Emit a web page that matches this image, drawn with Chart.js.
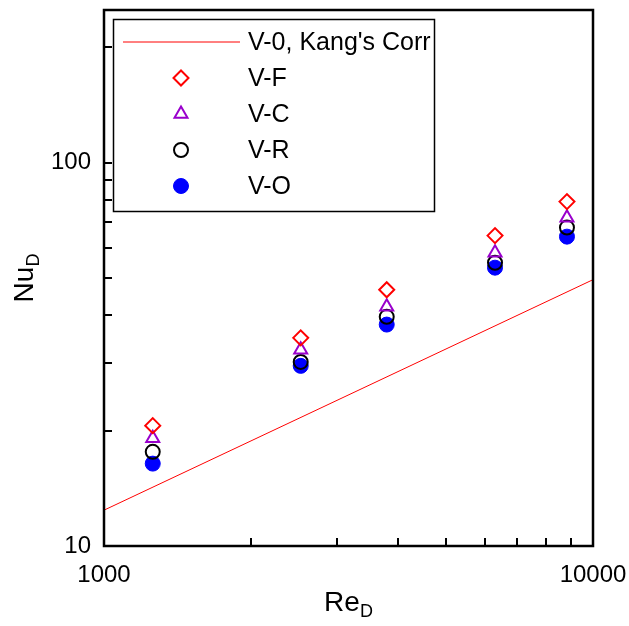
<!DOCTYPE html>
<html>
<head>
<meta charset="utf-8">
<script src="https://cdn.jsdelivr.net/npm/chart.js@4"></script>
<style>
  html, body { margin: 0; padding: 0; background: #fff; }
  #wrap { width: 629px; height: 626px; }
</style>
</head>
<body>
<div id="wrap"><canvas id="nuChart" width="629" height="626"></canvas></div>
<script>
// Re_D values for the measured cases
const reD = [1258, 2525, 3786, 6304, 8846];
// Nu_D for each configuration
const nuVF = [20.6, 34.9, 46.6, 64.5, 79.1];
const nuVC = [19.1, 32.5, 42.1, 58.2, 71.8];
const nuVR = [17.6, 30.2, 39.6, 54.8, 67.7];
const nuVO = [16.4, 29.5, 37.8, 53.2, 64.1];
// Kang's correlation line (end points)
const corrRe = [1000, 10000];
const corrNu = [12.4, 49.5];
// axis ticks
const xTicks = [1000, 2000, 3000, 4000, 5000, 6000, 7000, 8000, 9000, 10000];
const yTicks = [10, 20, 30, 40, 50, 60, 70, 80, 90, 100, 200];
const xLabels = [1000, 10000];
const yLabels = [10, 100];

const FONT = "'Liberation Sans', Arial, sans-serif";

function pts(xs, ys) {
  return xs.map((x, i) => ({ x: x, y: ys[i] }));
}

// ticks pointing inward, box frame, axis titles with subscripts, boxed legend
const decor = {
  id: 'decor',
  afterDraw(chart) {
    const ctx = chart.ctx;
    const a = chart.chartArea;
    const xs = chart.scales.x;
    const ys = chart.scales.y;
    ctx.save();
    ctx.strokeStyle = '#000';
    ctx.lineWidth = 2;
    ctx.beginPath();
    xTicks.forEach(v => {
      if (v === 1000 || v === 10000) return;
      const px = Math.round(xs.getPixelForValue(v));
      ctx.moveTo(px, a.bottom);
      ctx.lineTo(px, a.bottom - 8);
    });
    yTicks.forEach(v => {
      if (v === 10) return;
      const py = Math.round(ys.getPixelForValue(v));
      ctx.moveTo(a.left, py);
      ctx.lineTo(a.left + 8, py);
    });
    ctx.stroke();
    ctx.lineWidth = 2.5;
    ctx.strokeRect(a.left, a.top, a.right - a.left, a.bottom - a.top);

    // axis titles
    ctx.fillStyle = '#000';
    ctx.textBaseline = 'alphabetic';
    ctx.textAlign = 'left';
    const big = '28px ' + FONT, small = '18px ' + FONT;
    ctx.font = big; const wRe = ctx.measureText('Re').width;
    ctx.font = small; const wD = ctx.measureText('D').width;
    let x0 = (a.left + a.right) / 2 - (wRe + wD) / 2;
    ctx.font = big; ctx.fillText('Re', x0, 611);
    ctx.font = small; ctx.fillText('D', x0 + wRe, 617);

    ctx.save();
    ctx.translate(33, (a.top + a.bottom) / 2);
    ctx.rotate(-Math.PI / 2);
    ctx.font = big; const wNu = ctx.measureText('Nu').width;
    x0 = -(wNu + wD) / 2;
    ctx.fillText('Nu', x0, 0);
    ctx.font = small; ctx.fillText('D', x0 + wNu, 6);
    ctx.restore();

    // legend box
    ctx.lineWidth = 1.5;
    ctx.strokeRect(113.5, 19.5, 321, 192);
    const rows = [42, 78, 114, 150, 186];
    ctx.font = '25px ' + FONT;
    ctx.textBaseline = 'middle';
    chart.data.datasets.forEach((ds, i) => {
      const y = rows[i];
      if (ds.showLine) {
        ctx.strokeStyle = ds.borderColor;
        ctx.lineWidth = 1;
        ctx.beginPath();
        ctx.moveTo(123, y);
        ctx.lineTo(240, y);
        ctx.stroke();
      } else {
        ctx.strokeStyle = ds.pointBorderColor;
        ctx.fillStyle = ds.pointBackgroundColor;
        ctx.lineWidth = ds.pointBorderWidth;
        Chart.helpers.drawPoint(ctx, {
          pointStyle: ds.pointStyle,
          radius: ds.pointRadius,
          rotation: 0,
          borderWidth: ds.pointBorderWidth
        }, 181, y);
      }
      ctx.fillStyle = '#000';
      ctx.fillText(ds.label, 248, y + 1);
    });
    ctx.restore();
  }
};

new Chart(document.getElementById('nuChart'), {
  type: 'scatter',
  data: {
    datasets: [
      {
        label: "V-0, Kang's Corr",
        data: pts(corrRe, corrNu),
        showLine: true,
        borderColor: '#ff0000',
        borderWidth: 1,
        pointRadius: 0,
        fill: false
      },
      {
        label: 'V-F',
        data: pts(reD, nuVF),
        pointStyle: 'rectRot',
        pointRadius: 7.5,
        pointBorderWidth: 2,
        pointBorderColor: '#ff0000',
        pointBackgroundColor: 'rgba(0,0,0,0)'
      },
      {
        label: 'V-C',
        data: pts(reD, nuVC),
        pointStyle: 'triangle',
        pointRadius: 7.5,
        pointBorderWidth: 2,
        pointBorderColor: '#9900cc',
        pointBackgroundColor: 'rgba(0,0,0,0)'
      },
      {
        label: 'V-R',
        data: pts(reD, nuVR),
        pointStyle: 'circle',
        pointRadius: 7,
        pointBorderWidth: 2,
        pointBorderColor: '#000000',
        pointBackgroundColor: 'rgba(0,0,0,0)'
      },
      {
        label: 'V-O',
        data: pts(reD, nuVO),
        pointStyle: 'circle',
        pointRadius: 7.5,
        pointBorderWidth: 1,
        pointBorderColor: '#0000ff',
        pointBackgroundColor: '#0000ff'
      }
    ]
  },
  options: {
    responsive: false,
    animation: false,
    layout: { padding: { top: 10, right: 36, left: 0, bottom: 0 } },
    plugins: {
      legend: { display: false },
      tooltip: { enabled: false }
    },
    scales: {
      x: {
        type: 'logarithmic',
        min: 1000,
        max: 10000,
        afterBuildTicks: s => { s.ticks = xTicks.map(v => ({ value: v })); },
        afterFit: s => { s.height = 80; s.paddingLeft = 0; s.paddingRight = 0; },
        grid: { display: false, drawTicks: false },
        border: { display: false },
        ticks: {
          autoSkip: false,
          maxRotation: 0,
          padding: 15,
          color: '#000',
          font: { family: FONT, size: 24 },
          callback: v => xLabels.includes(v) ? String(v) : ''
        }
      },
      y: {
        type: 'logarithmic',
        min: 10,
        max: 250,
        afterBuildTicks: s => { s.ticks = yTicks.map(v => ({ value: v })); },
        afterFit: s => { s.width = 104; s.paddingTop = 0; s.paddingBottom = 0; },
        grid: { display: false, drawTicks: false },
        border: { display: false },
        ticks: {
          autoSkip: false,
          padding: 13,
          color: '#000',
          font: { family: FONT, size: 24 },
          callback: v => yLabels.includes(v) ? String(v) : ''
        }
      }
    }
  },
  plugins: [decor]
});
</script>
</body>
</html>
